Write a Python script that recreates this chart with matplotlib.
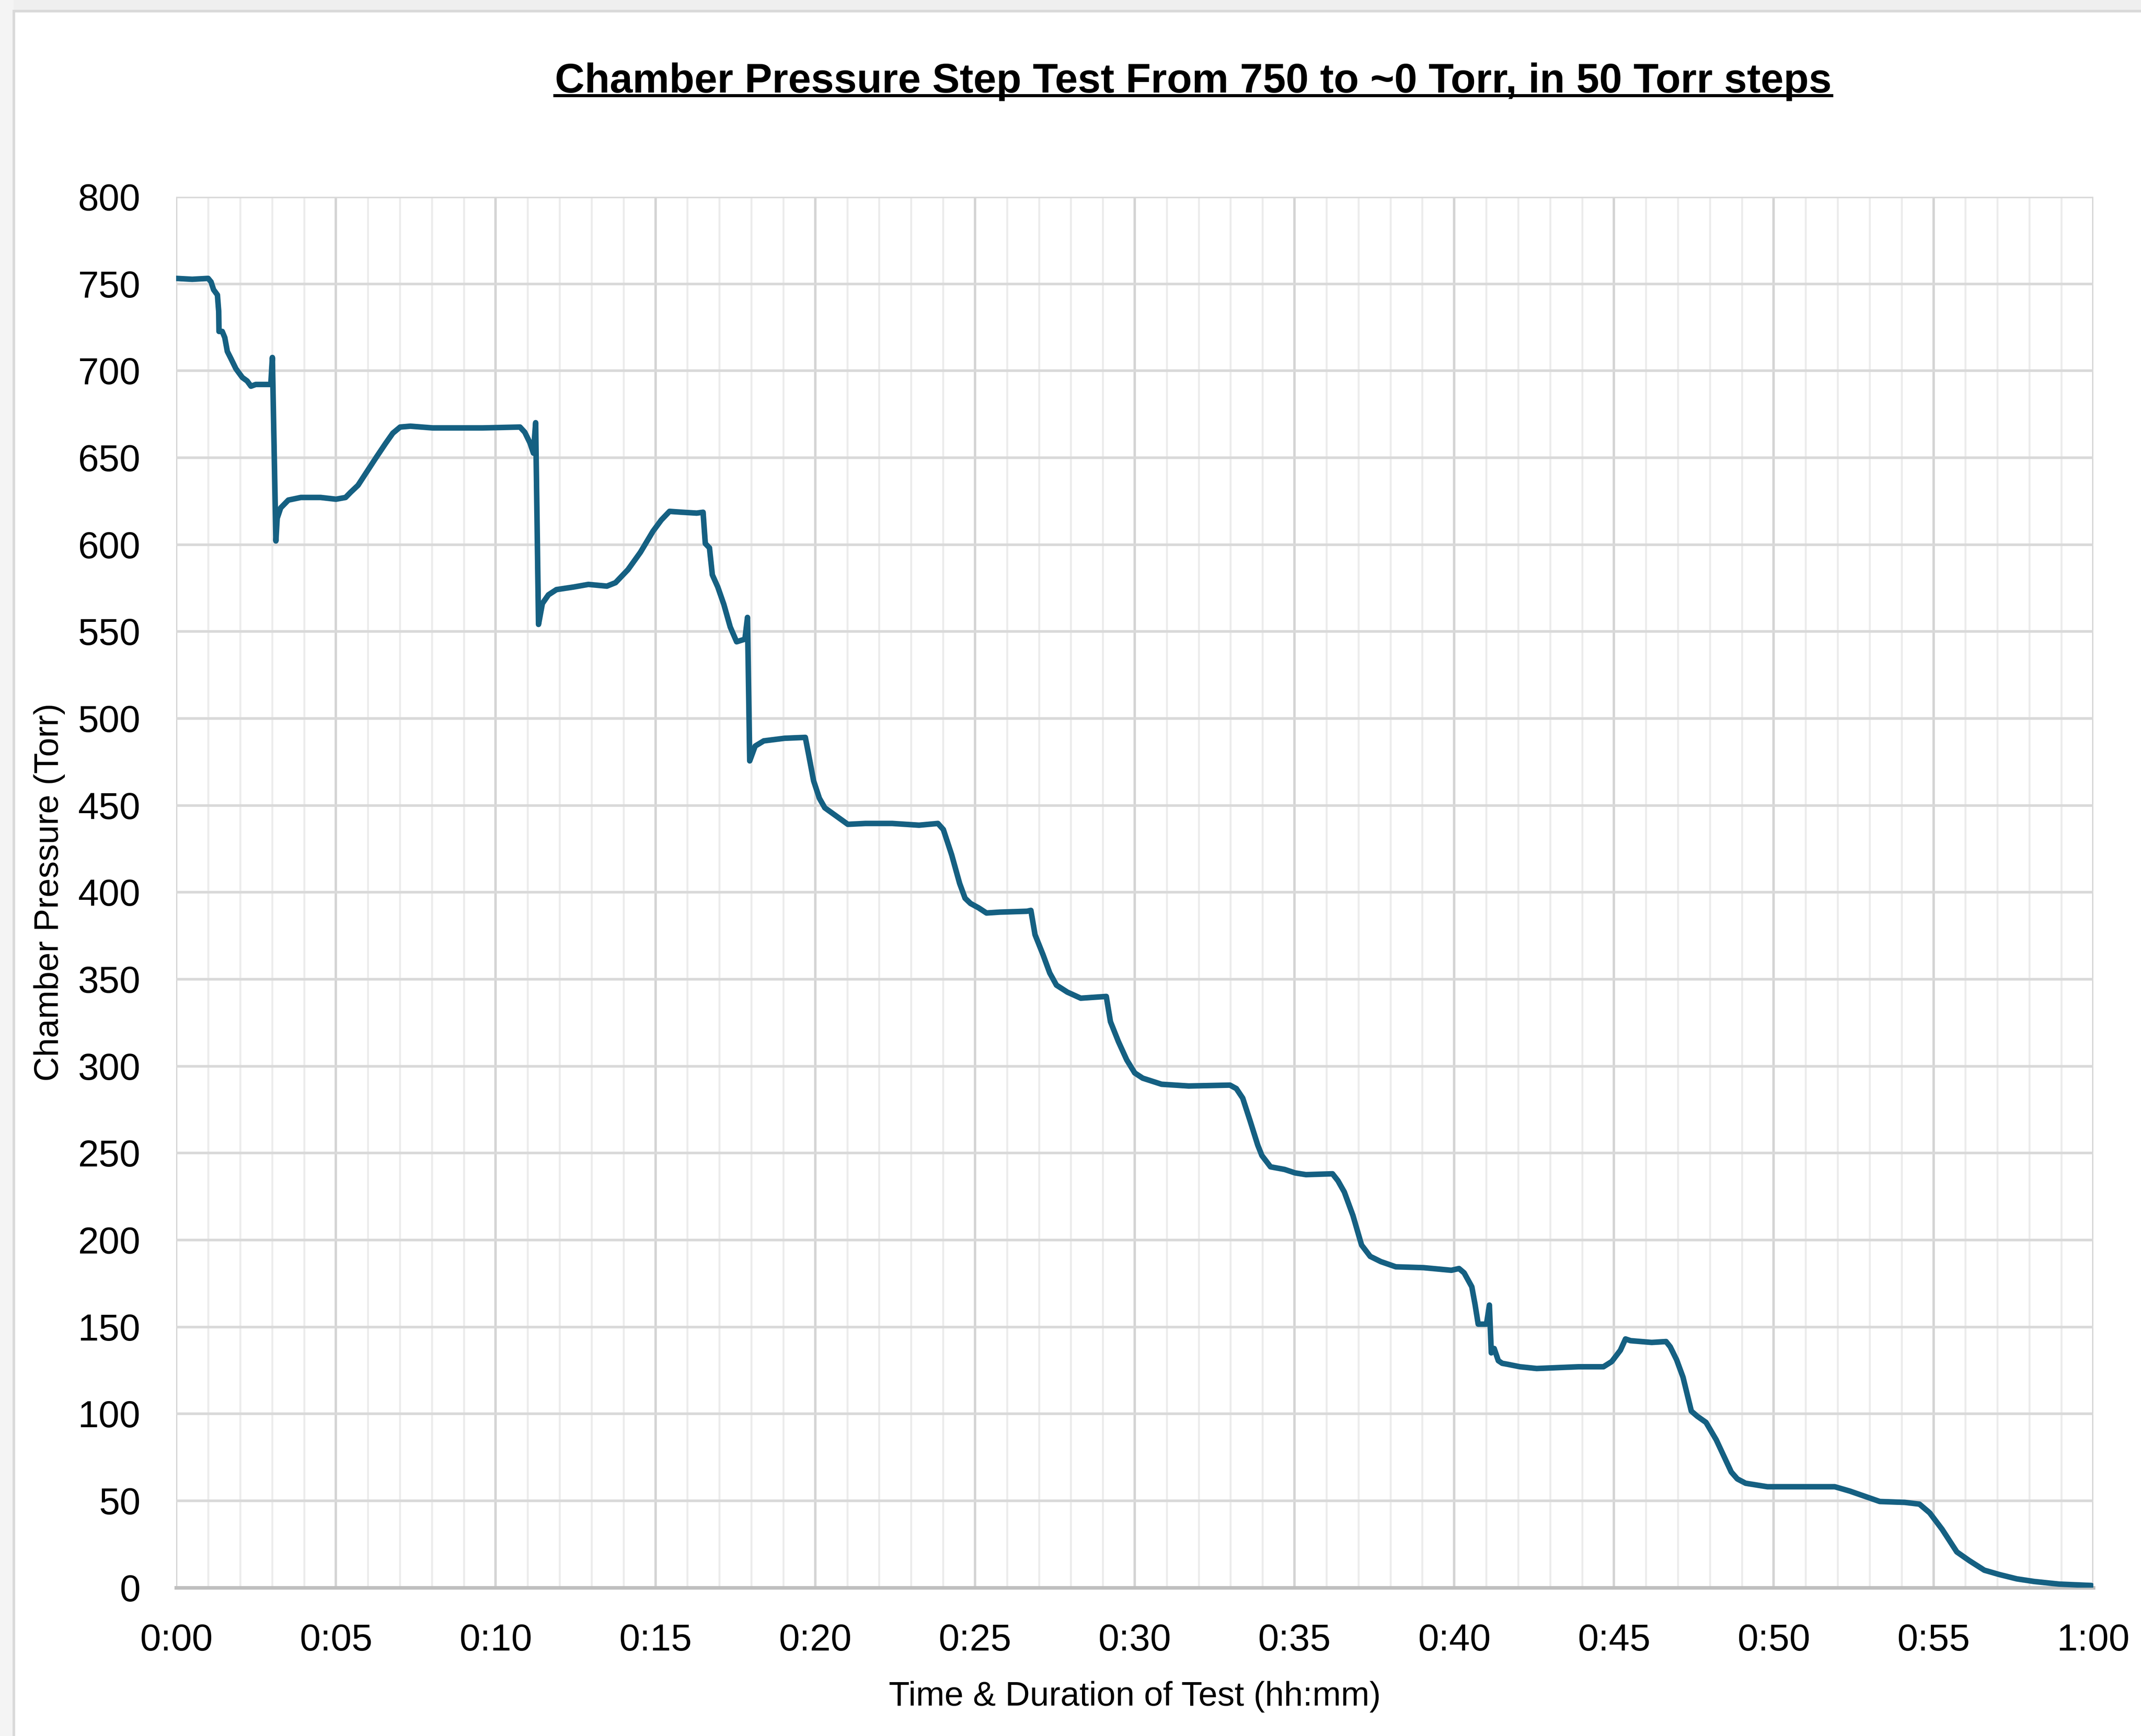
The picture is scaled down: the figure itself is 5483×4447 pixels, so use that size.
import matplotlib
matplotlib.use('Agg')
import matplotlib.pyplot as plt
from matplotlib.lines import Line2D
from matplotlib.patches import Rectangle

plt.rcParams['font.family'] = ['Liberation Sans', 'DejaVu Sans']

# elapsed time (minutes) and chamber pressure (Torr)
minutes = [0.0, 0.5, 1.0, 1.09, 1.17, 1.29, 1.33, 1.34, 1.44, 1.52, 1.6, 1.71, 1.87, 2.07, 2.22,
           2.34, 2.49, 2.96, 3.01, 3.12, 3.16, 3.27, 3.51, 3.9, 4.52, 5.0, 5.3, 5.46, 5.69, 5.92,
           6.24, 6.55, 6.78, 7.01, 7.33, 8.03, 8.81, 9.59, 10.76, 10.91, 11.07, 11.18, 11.25, 11.34,
           11.46, 11.65, 11.9, 12.44, 12.9, 13.48, 13.75, 14.14, 14.53, 14.92, 15.18, 15.44, 15.84,
           16.29, 16.49, 16.56, 16.69, 16.78, 16.95, 17.14, 17.34, 17.54, 17.8, 17.88, 17.95, 18.12,
           18.39, 19.04, 19.69, 19.79, 19.95, 20.13, 20.3, 20.64, 21.02, 21.57, 22.41, 23.25, 23.84,
           24.01, 24.27, 24.52, 24.69, 24.86, 25.11, 25.36, 25.78, 26.63, 26.75, 26.88, 27.13, 27.34,
           27.55, 27.89, 28.31, 29.11, 29.24, 29.49, 29.75, 30.0, 30.25, 30.84, 31.69, 32.98, 33.18,
           33.38, 33.61, 33.85, 33.98, 34.25, 34.69, 35.02, 35.36, 36.19, 36.36, 36.56, 36.83, 37.1,
           37.37, 37.7, 38.17, 39.04, 39.91, 40.15, 40.31, 40.55, 40.65, 40.75, 41.01, 41.1, 41.16,
           41.25, 41.38, 41.5, 41.65, 42.06, 42.58, 43.89, 44.67, 44.93, 45.2, 45.36, 45.52, 46.18,
           46.63, 46.76, 46.96, 47.16, 47.42, 47.61, 47.88, 48.2, 48.67, 48.86, 49.12, 49.8, 51.13,
           51.91, 52.38, 52.85, 53.32, 54.1, 54.56, 54.88, 55.27, 55.73, 56.12, 56.59, 57.06, 57.61,
           58.15, 58.93, 59.94]
pressure = [753, 752.5, 753, 751, 746.5, 743.5, 734, 722.5, 722.5, 719, 711, 707, 701, 696, 694,
            691, 692, 692, 707.5, 602, 615, 621, 625.5, 627, 627, 626, 627, 630, 634, 640.5,
            649.5, 658, 664, 667.5, 668, 667, 667, 667, 667.5, 664.5, 658.5, 652.5, 670, 554,
            566, 571, 574, 575.5, 577, 576, 578, 585.5, 595.5, 607.5, 614, 619, 618.5,
            618, 618.5, 600.5, 598, 582.5, 575.5, 565.5, 552.5, 544, 545.5, 558, 475.5, 484,
            487, 488.5, 489, 479.5, 464, 454, 448.5, 444, 439, 439.5, 439.5, 438.5, 439.5,
            436, 421.5, 405, 396.5, 393.5, 391, 388, 388.5, 389, 389.5, 375.5, 364, 353.5,
            346.5, 342.5, 339, 340, 325.5, 314, 303.5, 296, 293, 289.5, 288.5, 289, 287,
            281.5, 268.5, 254.5, 248.5, 242, 240.5, 238.5, 237.5, 238, 234, 227.5, 214, 197,
            190.5, 187.5, 184.5, 184, 182.5, 183.5, 181, 173, 163, 151.5, 151.5, 162.5, 135,
            137.5, 130.5, 129, 128.5, 127, 126, 127, 127, 130, 136.5, 143, 142, 141,
            141.5, 138.5, 131, 121, 101.5, 98.5, 95, 85, 66.5, 62.5, 60, 58, 58,
            58, 55.5, 52.5, 49.5, 49, 48, 43, 33.5, 20.5, 15.5, 10, 7.5, 5,
            3.5, 2, 1.2]

x_ticks = list(range(0, 61, 5))
x_labels = ['0:00', '0:05', '0:10', '0:15', '0:20', '0:25', '0:30',
            '0:35', '0:40', '0:45', '0:50', '0:55', '1:00']
y_ticks = list(range(0, 801, 50))

fig = plt.figure(figsize=(5483 / 300, 4447 / 300), dpi=300, facecolor='white')

# light surround / frame like the screenshot
fig.patches.append(Rectangle((0, 0.9937), 1, 0.0063, transform=fig.transFigure,
                             facecolor='#efefef', edgecolor='none', zorder=-10))
fig.patches.append(Rectangle((0, 0), 0.0064, 1, transform=fig.transFigure,
                             facecolor='#f4f4f4', edgecolor='none', zorder=-10))
fig.patches.append(Rectangle((0.0064, -0.01), 1.0, 1.0037, transform=fig.transFigure,
                             facecolor='none', edgecolor='#d9d9d9', linewidth=1.6, zorder=-9))

ax = fig.add_axes([0.0823, 0.0855, 0.8954, 0.8012])
ax.set_zorder(1)
ax.set_facecolor('white')

ax.plot(minutes, pressure, color='#156082', linewidth=3.4, solid_joinstyle='round',
        solid_capstyle='round', zorder=3)

ax.set_xlim(0, 60)
ax.set_ylim(0, 800)
ax.set_xticks(x_ticks)
ax.set_xticklabels(x_labels)
ax.set_xticks(range(0, 61), minor=True)
ax.set_yticks(y_ticks)

ax.grid(True, which='major', axis='y', color='#d9d9d9', linewidth=1.6)
ax.grid(True, which='major', axis='x', color='#d4d4d4', linewidth=1.5)
ax.grid(True, which='minor', axis='x', color='#ececec', linewidth=1.2)
ax.set_axisbelow(True)

for side in ['top', 'right', 'left']:
    ax.spines[side].set_visible(False)
ax.spines['bottom'].set_color('#bfbfbf')
ax.spines['bottom'].set_linewidth(2.2)

ax.tick_params(axis='both', which='both', length=0, labelsize=23, colors='black')
ax.tick_params(axis='x', pad=22)
ax.tick_params(axis='y', pad=22)

ax.set_xlabel('Time & Duration of Test (hh:mm)', fontsize=21, va='center')
ax.xaxis.set_label_coords(0.5, -0.0784)
ax.set_ylabel('Chamber Pressure (Torr)', fontsize=21, va='center')
ax.yaxis.set_label_coords(-0.0662, 0.5)

# underlined bold title
title_y = 0.9467
title = fig.text(0.5574, title_y, 'Chamber Pressure Step Test From 750 to ~0 Torr, in 50 Torr steps',
                 ha='center', va='baseline', fontsize=25.3, fontweight='bold')
fig.canvas.draw()
bb = title.get_window_extent(fig.canvas.get_renderer()).transformed(fig.transFigure.inverted())
line_y = title_y - 8 / 4447
fig.add_artist(Line2D([bb.x0, bb.x1], [line_y, line_y], transform=fig.transFigure,
                      color='black', linewidth=1.9))

fig.savefig('out.png', dpi=300, facecolor=fig.get_facecolor())
